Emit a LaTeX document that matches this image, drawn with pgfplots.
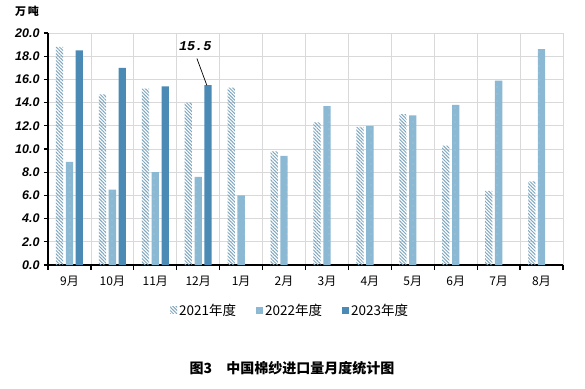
\documentclass[border=0pt]{standalone}
\usepackage{fontspec}
\setmainfont{Liberation Sans}
\newfontfamily\cjk{Noto Sans CJK SC}
\newfontfamily\monob{Liberation Mono}
\usepackage{pgfplots}
\pgfplotsset{compat=1.18}
\usetikzlibrary{patterns.meta}
\definecolor{cA}{HTML}{7FA6BE}
\definecolor{cB}{HTML}{8BB8D2}
\definecolor{cC}{HTML}{4A8AB5}
\definecolor{gridc}{HTML}{D9D9D9}
\begin{document}
\begin{tikzpicture}[x=1pt,y=1pt]
\useasboundingbox (0,0) rectangle (585,388);
\begin{axis}[
  at={(48pt,123pt)}, anchor=south west,
  scale only axis, width=515pt, height=232pt,
  xmin=-0.5, xmax=11.5, ymin=0, ymax=20,
  axis line style={line width=1.4pt},
  axis x line*=bottom, axis y line*=left,
  xtick={0,...,11},
  xticklabels={9月,10月,11月,12月,1月,2月,3月,4月,5月,6月,7月,8月},
  x tick label style={font=\cjk\fontsize{12}{13}\selectfont, yshift=-4pt},
  major x tick style={draw=none},
  minor xtick={-0.5,0.5,...,11.5},
  xminorgrids=true, minor x grid style={gridc, line width=0.8pt},
  minor x tick style={black, line width=1.2pt},
  minor tick length=5pt,
  xtick align=outside,
  ytick={0,2,...,20},
  ymajorgrids=true, major y grid style={gridc, line width=0.8pt},
  ytick align=outside, major tick length=4pt,
  major y tick style={black, line width=1.2pt},
  yticklabel style={font=\bfseries\itshape\fontsize{12.5}{13}\selectfont, xshift=-1pt},
  /pgf/number format/.cd, fixed, fixed zerofill, precision=1, assume math mode=true,
  /pgfplots/.cd,
  ybar, bar width=0.17,
  legend style={at={(0.47,-0.15)}, anchor=north, legend columns=3, draw=none,
    font=\cjk\fontsize{13.5}{14}\selectfont,
    /tikz/every even column/.append style={column sep=18pt}},
  legend image code/.code={\draw[#1, draw=none] (0pt,-3.5pt) rectangle (7pt,3.5pt);},
  clip=false,
]
\addplot[bar shift=-0.23, draw=none, pattern={Lines[angle=-45,distance=2.4pt,line width=1pt]}, pattern color=cA]
coordinates {(0,18.8) (1,14.7) (2,15.2) (3,14.0) (4,15.3) (5,9.8) (6,12.3) (7,11.9) (8,13.0) (9,10.3) (10,6.4) (11,7.2)};
\addplot[bar shift=0, draw=none, fill=cB, postaction={pattern={Dots[distance=7pt,radius=0.45pt]}, pattern color=white}]
coordinates {(0,8.9) (1,6.5) (2,8.0) (3,7.6) (4,6.0) (5,9.4) (6,13.7) (7,12.0) (8,12.9) (9,13.8) (10,15.9) (11,18.6)};
\addplot[bar shift=0.23, draw=none, fill=cC]
coordinates {(0,18.5) (1,17.0) (2,15.4) (3,15.5)};
\legend{2021年度,2022年度,2023年度}
\draw[black, line width=0.7pt] (axis cs:2.97,17.8) -- (axis cs:3.2,15.5);
\node[font=\monob\bfseries\itshape\fontsize{13.5}{14}\selectfont] at (axis cs:2.93,18.9) {15.5};
\end{axis}
\node[font=\cjk\bfseries\fontsize{11}{12}\selectfont] at (27,377) {万\,吨};
\node[font=\cjk\bfseries\fontsize{14}{15}\selectfont] at (292,20) {图3\quad 中国棉纱进口量月度统计图};
\end{tikzpicture}
\end{document}
